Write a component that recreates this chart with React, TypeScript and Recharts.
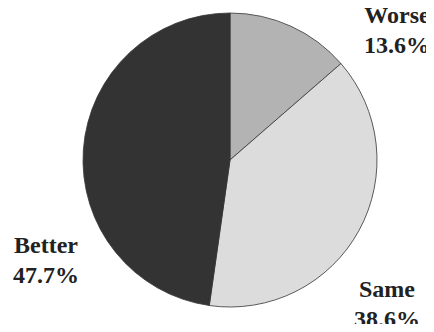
import { PieChart, Pie, Cell } from 'recharts';

const names = ['Worse', 'Same', 'Better'];
const shares = [13.6, 38.6, 47.7];

const COLORS = ['#b3b3b3', '#dcdcdc', '#333333'];
// label block centre, offset from pie centre (x, first baseline)
const LABEL_OFFSETS = [
  [167, -137],
  [157, 137],
  [-184, 93],
];

const data = names.map((name, i) => ({ name, value: shares[i] }));

const FONT = 'Liberation Serif';

const renderLabel = (props: any) => {
  const { cx, cy, index, name, value } = props;
  const [dx, dy] = LABEL_OFFSETS[index];
  const x = cx + dx;
  const y = cy + dy;
  return (
    <g>
      <text x={x} y={y} textAnchor="middle" fill="#222" fontFamily={FONT} fontWeight="bold" fontSize={24}>
        {name}
      </text>
      <text x={x} y={y + 30} textAnchor="middle" fill="#222" fontFamily={FONT} fontWeight="bold" fontSize={24}>
        {`${value.toFixed(1)}%`}
      </text>
    </g>
  );
};

export default function App() {
  return (
    <div style={{ margin: -8, position: 'relative', width: 434, height: 332 }}>
      {/* blank line in the label face so the browser loads it before painting */}
      <div style={{ position: 'absolute', left: 0, top: 0, fontFamily: FONT, fontWeight: 700, fontSize: 24 }}>
        {'\u00a0'}
      </div>
      <PieChart width={434} height={332} margin={{ top: 0, right: 0, bottom: 0, left: 0 }}>
        <Pie
          data={data}
          dataKey="value"
          nameKey="name"
          cx={230}
          cy={160}
          outerRadius={147}
          startAngle={90}
          endAngle={-270}
          stroke="#333"
          strokeWidth={0.8}
          label={renderLabel}
          labelLine={false}
          isAnimationActive={false}
        >
          {data.map((_, i) => (
            <Cell key={i} fill={COLORS[i]} />
          ))}
        </Pie>
      </PieChart>
    </div>
  );
}
